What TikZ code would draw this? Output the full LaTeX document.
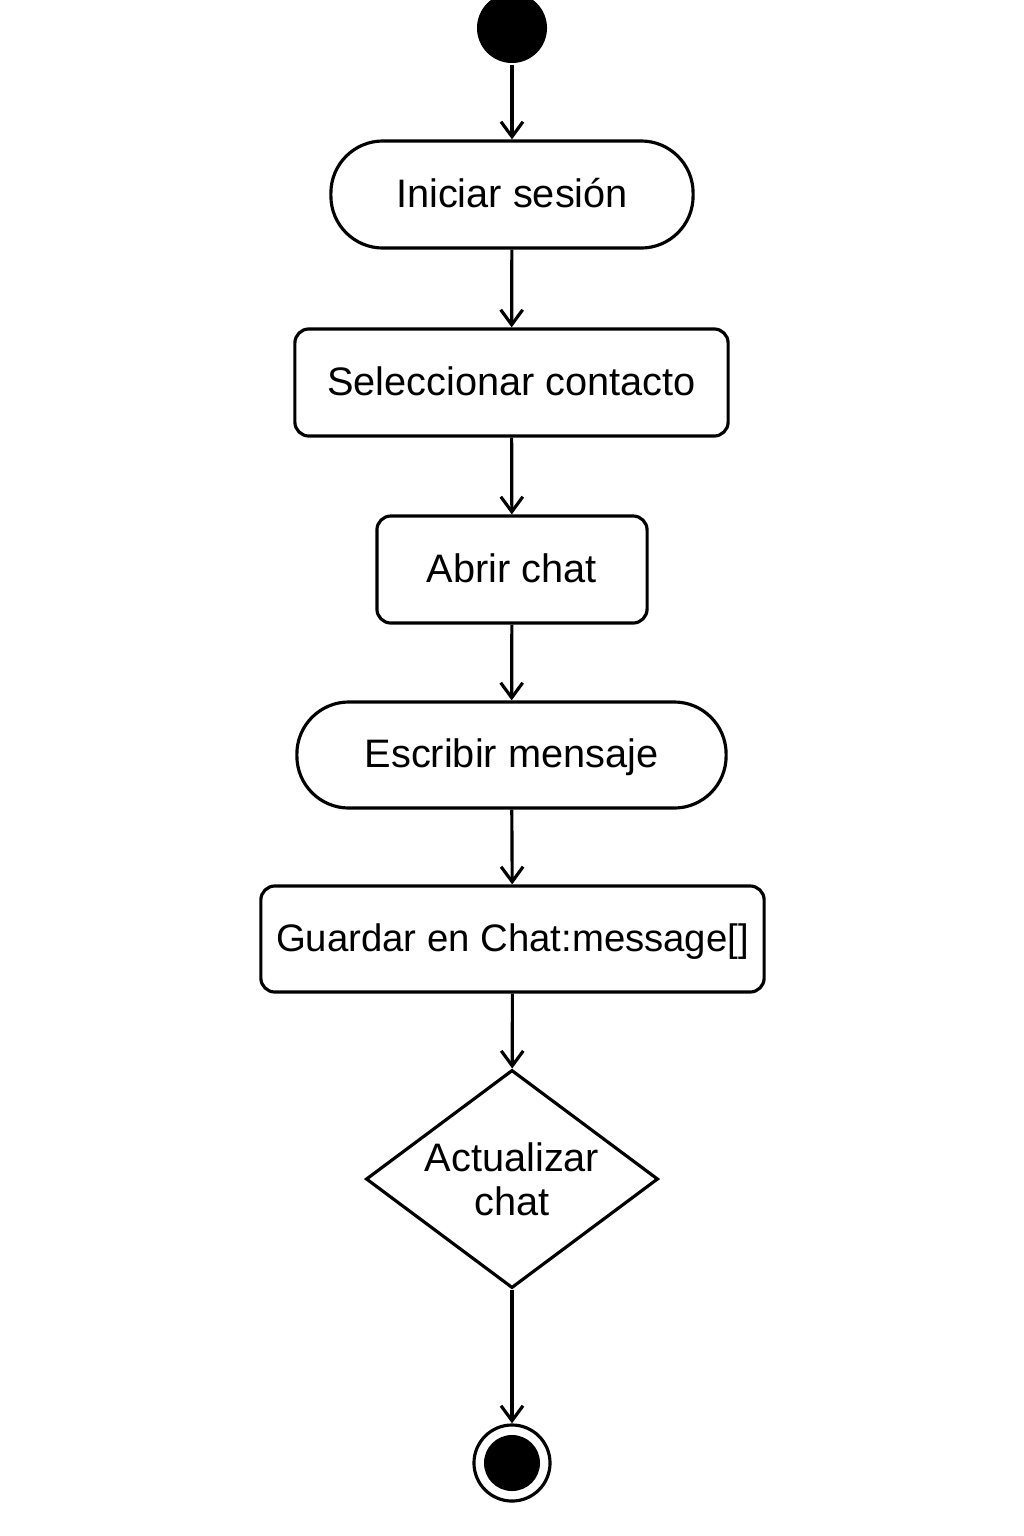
\documentclass[tikz,border=0pt]{standalone}
\usepackage{fontspec}
\setmainfont{Liberation Sans}
\usetikzlibrary{shapes.geometric,arrows.meta}
\begin{document}
\begin{tikzpicture}[x=0.01cm,y=-0.01cm,
  every node/.style={line width=0.9pt, font=\fontsize{11.3}{12.4}\selectfont},
  actbox/.style={draw, rectangle, rounded corners=0.14cm, text height=0.72em, text depth=0pt},
  stadium/.style={draw, rectangle, rounded corners=0.52cm, text height=0.72em, text depth=0pt},
  decis/.style={draw, diamond, aspect=1.34, inner sep=0pt, align=center, minimum width=2.92cm, minimum height=2.18cm},
  flow/.style={line width=0.9pt, -{Straight Barb[length=0.15cm,width=0.22cm,line width=0.9pt]}}
]
\useasboundingbox (0,0) rectangle (1024,1536);
\node[circle, fill=black, inner sep=0pt, minimum size=0.70cm] (start) at (512,28) {};
\node[stadium, minimum width=3.62cm, minimum height=1.07cm] (n1) at (512,194.5) {Iniciar sesión};
\node[actbox, minimum width=4.33cm, minimum height=1.07cm] (n2) at (511.5,382.5) {Seleccionar contacto};
\node[actbox, minimum width=2.70cm, minimum height=1.07cm] (n3) at (512,569.5) {Abrir chat};
\node[stadium, minimum width=4.29cm, minimum height=1.06cm] (n4) at (511.5,755) {Escribir mensaje};
\node[actbox, inner xsep=0.04cm, minimum width=5.03cm, minimum height=1.06cm, font=\fontsize{10.9}{12.4}\selectfont] (n5) at (512.5,939) {Guardar en Chat:message[]};
\node[decis] (d) at (512,1179) {Actualizar\\chat};
\node[draw, circle, inner sep=0pt, minimum size=0.76cm] (end) at (512,1463) {};
\node[circle, fill=black, inner sep=0pt, minimum size=0.56cm] (endin) at (512,1463) {};
\draw[flow] (start) -- (n1);
\draw[flow] (n1) -- (n2);
\draw[flow] (n2) -- (n3);
\draw[flow] (n3) -- (n4);
\draw[flow] (n4) -- (n5);
\draw[flow] (n5) -- (d);
\draw[flow] (d) -- (end);
\end{tikzpicture}
\end{document}
